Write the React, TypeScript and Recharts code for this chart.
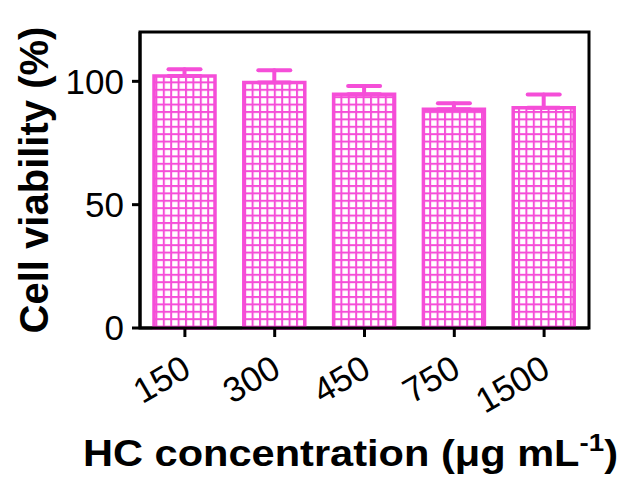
import React from "react";
import {
  BarChart,
  Bar,
  XAxis,
  YAxis,
  ErrorBar,
  ReferenceArea,
} from "recharts";

const concentrations = ["150", "300", "450", "750", "1500"];
const viability = [102.2, 99.5, 94.8, 88.7, 89.3];
const sdUpper = [2.7, 5.0, 3.3, 2.4, 5.4];
const yTicks = [0, 50, 100];

const PINK = "#f54ed8";
const FONT = "'Liberation Sans', Arial, sans-serif";

const data = concentrations.map((c, i) => ({
  c,
  v: viability[i],
  // only the upper half of the error bar is visible in the original
  err: [0, sdUpper[i]],
}));

const XTick = (props: any) => {
  const { x, y, payload } = props;
  const ax = x + 8;
  const ay = y + 36;
  return (
    <text
      x={ax}
      y={ay}
      transform={`rotate(-30 ${ax} ${ay})`}
      textAnchor="end"
      fontFamily={FONT}
      fontSize={35}
      fill="#000"
    >
      {payload.value}
    </text>
  );
};

const YTitle = () => (
  <text
    x={48}
    y={180}
    transform="rotate(-90 48 180)"
    textAnchor="middle"
    fontFamily={FONT}
    fontSize={40}
    fontWeight="bold"
    fill="#000"
  >
    Cell viability (%)
  </text>
);

const XTitle = () => (
  <text
    x={83}
    y={466}
    fontFamily={FONT}
    fontSize={36}
    fontWeight="bold"
    fill="#000"
    textLength={535}
    lengthAdjust="spacingAndGlyphs"
  >
    HC concentration (μg mL
    <tspan dy={-15} fontSize={24}>
      -1
    </tspan>
    <tspan dy={15}>)</tspan>
  </text>
);

export default function App() {
  return (
    <div style={{ position: "absolute", left: 0, top: 0, background: "#fff" }}>
      <BarChart
        width={626}
        height={484}
        data={data}
        margin={{ top: 32, right: 37, bottom: 0, left: 0 }}
      >
        <defs>
          <pattern
            id="hatchGrid"
            patternUnits="userSpaceOnUse"
            width={7.4}
            height={7.4}
          >
            <rect width={7.4} height={7.4} fill="#fff" />
            <line x1={0} y1={1} x2={7.4} y2={1} stroke={PINK} strokeWidth={2} />
            <line x1={1} y1={0} x2={1} y2={7.4} stroke={PINK} strokeWidth={2} />
          </pattern>
        </defs>
        <XAxis
          dataKey="c"
          height={156}
          tick={<XTick />}
          tickSize={9}
          interval={0}
          axisLine={{ stroke: "#000", strokeWidth: 3 }}
          tickLine={{ stroke: "#000", strokeWidth: 3 }}
          label={<XTitle />}
        />
        <YAxis
          width={140}
          domain={[0, 120]}
          ticks={yTicks}
          interval={0}
          tickSize={8}
          tickMargin={8}
          tick={{ fill: "#000", fontSize: 35, fontFamily: FONT }}
          axisLine={{ stroke: "#000", strokeWidth: 3 }}
          tickLine={{ stroke: "#000", strokeWidth: 3 }}
          label={<YTitle />}
        />
        <ReferenceArea
          y1={0}
          y2={120}
          fill="none"
          stroke="#000"
          strokeWidth={3}
          ifOverflow="visible"
        />
        <Bar
          dataKey="v"
          barSize={61}
          fill="url(#hatchGrid)"
          stroke={PINK}
          strokeWidth={3.5}
          isAnimationActive={false}
        >
          <ErrorBar
            dataKey="err"
            direction="y"
            width={16}
            stroke={PINK}
            strokeWidth={4}
            strokeLinecap="round"
            isAnimationActive={false}
          />
        </Bar>
      </BarChart>
    </div>
  );
}
